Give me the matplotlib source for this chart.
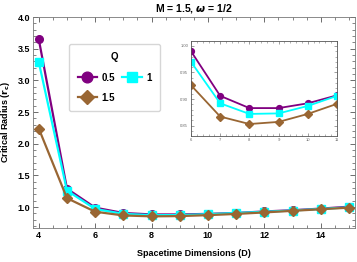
import matplotlib.pyplot as plt
from matplotlib.ticker import MultipleLocator

plt.rcParams['font.family'] = ['Liberation Sans', 'DejaVu Sans']

dims = [4, 5, 6, 7, 8, 9, 10, 11, 12, 13, 14, 15]
q_labels = ['0.5', '1', '1.5']
rc_q05 = [3.65, 1.29, 0.990, 0.906, 0.883, 0.883, 0.892, 0.907, 0.930, 0.950, 0.975, 1.005]
rc_q1 = [3.29, 1.26, 0.970, 0.892, 0.872, 0.873, 0.887, 0.906, 0.925, 0.945, 0.970, 0.995]
rc_q15 = [2.24, 1.14, 0.926, 0.867, 0.853, 0.857, 0.872, 0.891, 0.915, 0.940, 0.965, 0.990]

series = [rc_q05, rc_q1, rc_q15]
colors = ['#800080', '#00ffff', '#996633']
markers = ['o', 's', 'D']

fig = plt.figure(figsize=(3.57, 2.62), dpi=100)
ax = fig.add_axes([0.092, 0.130, 0.902, 0.805])

handles = []
for ys, c, m, lab in zip(series, colors, markers, q_labels):
    ms = 5.0 if m == 'D' else 5.5
    h, = ax.plot(dims, ys, color=c, marker=m, ms=ms, lw=1.6, label=lab)
    handles.append(h)

ax.set_xlim(3.79, 15.21)
ax.set_ylim(0.67, 4.0)
ax.xaxis.set_major_locator(MultipleLocator(2))
ax.xaxis.set_minor_locator(MultipleLocator(0.5))
ax.yaxis.set_major_locator(MultipleLocator(0.5))
ax.yaxis.set_minor_locator(MultipleLocator(0.1))
ax.tick_params(which='both', direction='in', top=True, right=True,
               color='#555555', labelsize=6.5, pad=2)
ax.tick_params(which='major', length=3.5, width=0.6)
ax.tick_params(which='minor', length=2, width=0.5)
for lbl in ax.get_xticklabels() + ax.get_yticklabels():
    lbl.set_fontweight('bold')
for sp in ax.spines.values():
    sp.set_color('#777777')
    sp.set_linewidth(0.6)

ax.set_title('M = 1.5, $\\boldsymbol{\\omega}$ = 1/2', fontsize=7.5, fontweight='bold', pad=4)
ax.set_xlabel('Spacetime Dimensions (D)', fontsize=6.5, fontweight='bold', labelpad=7)
ax.set_ylabel('Critical Radius ($\\mathbf{r_c}$)', fontsize=6.5, fontweight='bold', labelpad=4)

leg = ax.legend([handles[0], handles[2], handles[1]], ['0.5', '1.5', '1'],
                title='Q', ncol=2, loc='upper left', bbox_to_anchor=(0.098, 0.895),
                fontsize=7, title_fontsize=7, markerscale=1.4, handlelength=2.0,
                columnspacing=0.7, handletextpad=0.5, labelspacing=1.05,
                borderpad=0.85, frameon=True, fancybox=True, edgecolor='#cccccc')
leg.get_title().set_fontweight('bold')
for t in leg.get_texts():
    t.set_fontweight('bold')

# inset zoom on D = 6..11
ins = fig.add_axes([0.535, 0.482, 0.409, 0.361])
for ys, c, m in zip(series, colors, markers):
    ms = 3.8 if m == 'D' else 4.2
    ins.plot(dims, ys, color=c, marker=m, ms=ms, lw=1.3)
ins.set_xlim(6, 11)
ins.set_ylim(0.831, 1.009)
ins.xaxis.set_major_locator(MultipleLocator(1))
ins.xaxis.set_minor_locator(MultipleLocator(0.2))
ins.yaxis.set_major_locator(MultipleLocator(0.05))
ins.yaxis.set_minor_locator(MultipleLocator(0.01))
ins.tick_params(which='both', direction='in', top=True, right=True,
                color='#777777', labelsize=3, labelcolor='#666666', pad=2)
ins.tick_params(which='major', length=2.5, width=0.5)
ins.tick_params(which='minor', length=1.2, width=0.4)
ins.yaxis.set_major_formatter(plt.FormatStrFormatter('%.2f'))
for sp in ins.spines.values():
    sp.set_color('#555555')
    sp.set_linewidth(0.6)

fig.savefig('out.png', dpi=100)
